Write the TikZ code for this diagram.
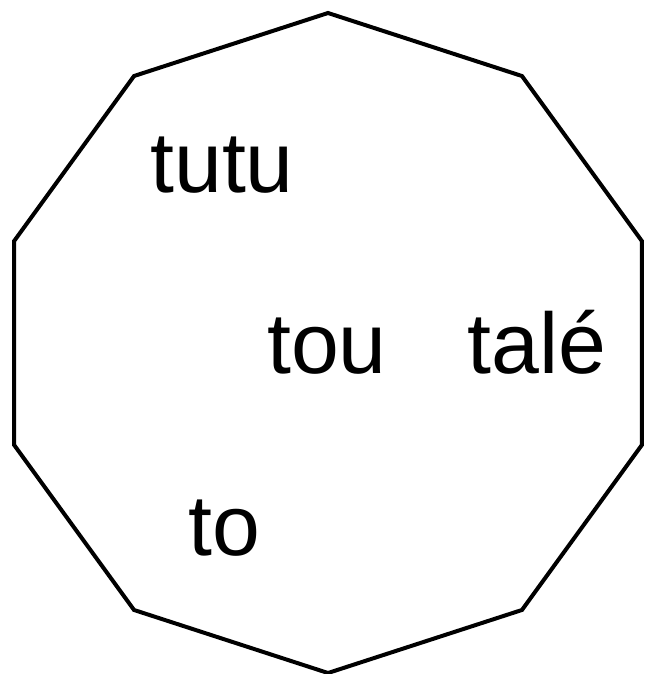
\documentclass[tikz,border=0pt]{standalone}
\usepackage{fontspec}
\setmainfont{Liberation Sans}
\tikzset{outline/.style={draw=black,line width=4pt},
 word/.style={anchor=base,inner sep=0pt,font=\fontsize{86}{100}\selectfont}}
\begin{document}
\begin{tikzpicture}[x=1pt,y=-1pt]
\useasboundingbox (0,0) rectangle (646,674);
% ten-sided outline, one corner at the top
\coordinate (mid) at (328,343);
\draw[outline,shift={(mid)}] (90:330) \foreach \a in {126,162,...,414}{--(\a:330)} -- cycle;
\node[word] (tutu) at (222,192) {tutu};
\node[word] (tou) at (327,373) {tou};
\node[word] (tale) at (537,373) {talé};
\node[word] (to) at (224,555) {to};
\end{tikzpicture}
\end{document}
